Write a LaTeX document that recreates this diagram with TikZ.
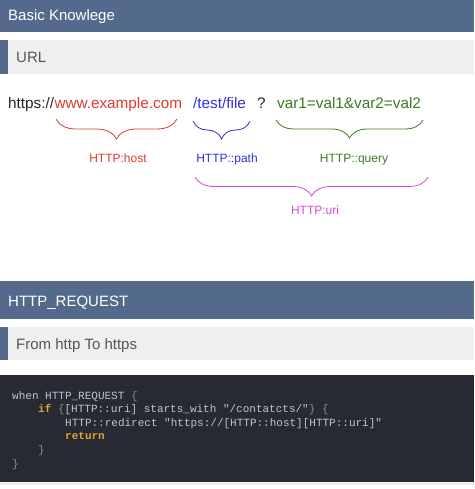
\documentclass[tikz,border=0pt]{standalone}
\usepackage{fontspec}
\setmainfont{Liberation Sans}
\setmonofont{Liberation Mono}
\usetikzlibrary{decorations.pathreplacing,positioning}
\definecolor{barblue}{HTML}{546A8C}
\definecolor{subgray}{HTML}{EFEFEF}
\definecolor{subtext}{HTML}{555555}
\definecolor{hostred}{HTML}{DD3B30}
\definecolor{pathblue}{HTML}{3030D8}
\definecolor{querygreen}{HTML}{3C7A24}
\definecolor{urimagenta}{HTML}{D64ADF}
\definecolor{codebg}{HTML}{272A33}
\definecolor{codetext}{HTML}{C4C4C4}
\definecolor{codedim}{HTML}{8C8C8C}
\definecolor{keyorange}{HTML}{E8A030}

\begin{document}
\begin{tikzpicture}[x=1pt,y=-1pt,
                title/.style = {anchor=base west, inner sep=0pt, text=white, font=\fontsize{15}{18}\selectfont},
                subtitle/.style = {anchor=base west, inner sep=0pt, text=subtext, font=\fontsize{15}{18}\selectfont},
                part/.style = {anchor=base west, inner sep=0pt, font=\fontsize{15.3}{18}\selectfont},
                tag/.style = {anchor=base, inner sep=0pt, font=\fontsize{12}{14}\selectfont},
                brace/.style = {decorate, line width=0.8pt, decoration={brace, mirror, amplitude=#1}},
                code/.style = {anchor=base west, inner sep=0pt, text=codetext, font=\ttfamily\fontsize{11}{13}\selectfont}]
                \useasboundingbox (0,0) rectangle (474,489);
                % header bars
                \fill[barblue] (0,0) rectangle (474,32);
                \fill[subgray] (0,40) rectangle (474,74);
                \fill[barblue] (0,40) rectangle (8,74);
                \node[title] (basic) at (8,21) {Basic Knowlege};
                \node[subtitle] (url) at (16,63) {URL};
                % the url and its parts
                \node[part, text=black!85] (scheme) at (8,109) {https://};
                \node[part, text=hostred] (host) at (scheme.base east) {www.example.com};
                \node[part, text=pathblue] (path) at (193,109) {/test/file};
                \node[part, text=black!85] (qmark) at (257,109) {?};
                \node[part, text=querygreen] (query) at (277,109) {var1=val1\&var2=val2};
                \draw[brace=20pt, hostred] (56,119) -- (177,119);
                \draw[brace=18pt, pathblue] (193,121) -- (250,121);
                \draw[brace=18pt, querygreen] (276,120) -- (423,120);
                \draw[brace=19pt, urimagenta] (195,177) -- (428,177);
                \node[tag, text=hostred] (hosttag) at (118,162) {HTTP:host};
                \node[tag, text=pathblue] (pathtag) at (227,162) {HTTP::path};
                \node[tag, text=querygreen] (querytag) at (354,162) {HTTP::query};
                \node[tag, text=urimagenta] (uritag) at (315,214) {HTTP:uri};
                % second section
                \fill[barblue] (0,281) rectangle (474,319);
                \fill[subgray] (0,327) rectangle (474,360);
                \fill[barblue] (0,327) rectangle (8,360);
                \node[title] (request) at (8,306) {HTTP\_REQUEST};
                \node[subtitle] (redirect) at (16,349) {From http To https};
                % irule code
                \fill[codebg] (0,375) rectangle (474,482);
                \fill[subgray] (0,482) rectangle (474,485);
                \node[code] (line1) at (12,399) {when HTTP\_REQUEST \textcolor{codedim}{\{}};
                \node[code] (line2) at (38,412.6) {\textcolor{keyorange}{\bfseries if} \textcolor{codedim}{\{}[HTTP::uri] starts\_with "/contatcts/"\textcolor{codedim}{\} \{}};
                \node[code] (line3) at (65,426.2) {HTTP::redirect "https://[HTTP::host][HTTP::uri]"};
                \node[code] (line4) at (65,439.8) {\textcolor{keyorange}{\bfseries return}};
                \node[code, text=codedim] (line5) at (38,453.4) {\}};
                \node[code, text=codedim] (line6) at (12,467) {\}};
            \end{tikzpicture}
\end{document}
